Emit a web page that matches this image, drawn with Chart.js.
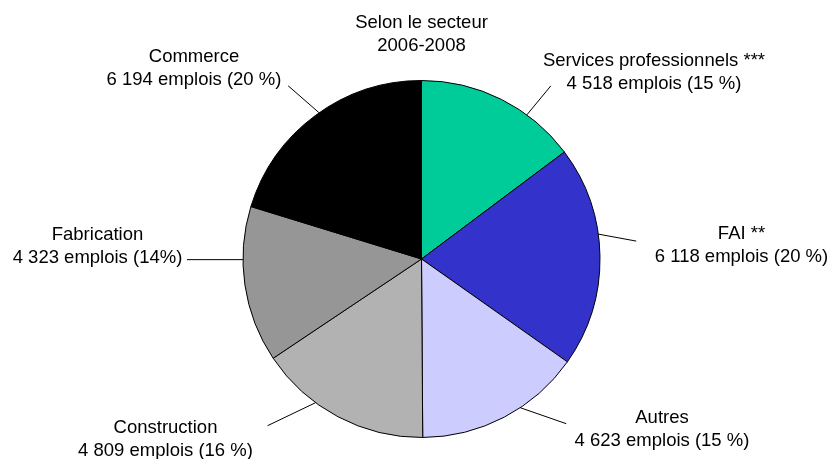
<!DOCTYPE html>
<html>
<head>
<meta charset="utf-8">
<script src="https://cdn.jsdelivr.net/npm/chart.js@4/dist/chart.umd.min.js"></script>
<style>
  html, body { margin: 0; padding: 0; background: #ffffff; }
  #wrap { width: 831px; height: 459px; }
</style>
</head>
<body>
<div id="wrap"><canvas id="c" width="831" height="459"></canvas></div>
<script>
// ---- Data ----
const titleLines = ['Selon le secteur', '2006-2008'];
const categories = ['Services professionnels ***', 'FAI **', 'Autres', 'Construction', 'Fabrication', 'Commerce'];
const jobs = [4518, 6118, 4623, 4809, 4323, 6194];
const percentLabels = ['15 %', '20 %', '15 %', '16 %', '14%', '20 %'];
const colors = ['#00CC99', '#3333CC', '#CCCCFF', '#B2B2B2', '#969696', '#000000'];

function fmt(n) {
  return String(n).replace(/\B(?=(\d{3})+(?!\d))/g, ' ');
}

// Label placement (style/layout only): fraction along the slice where the leader
// starts, leader end offset from start, text centre offset from pie centre.
const labelLayout = [
  { frac: 0.68, lead: [24, -29],  text: [232.5, -198] },
  { frac: 0.40, lead: [38, 7],    text: [320, -25] },
  { frac: 0.39, lead: [46, 16],   text: [240.5, 159] },
  { frac: 0.65, lead: [-48, 23],  text: [-256, 169] },
  { frac: 0.66, lead: [-56, 0],   text: [-324, -24] },
  { frac: 0.52, lead: [-31, -27], text: [-227.5, -202] }
];
const FONT = '"Liberation Sans", Arial, sans-serif';
const FONT_SIZE = 18.5;
const LINE_GAP = 23;

const labelPlugin = {
  id: 'sliceLabels',
  afterDraw(chart) {
    const ctx = chart.ctx;
    const meta = chart.getDatasetMeta(0);
    ctx.save();
    ctx.font = FONT_SIZE + 'px ' + FONT;
    ctx.fillStyle = '#000';
    ctx.strokeStyle = '#000';
    ctx.lineWidth = 1;
    ctx.textAlign = 'center';
    ctx.textBaseline = 'middle';
    meta.data.forEach((arc, i) => {
      const L = labelLayout[i];
      const a = arc.startAngle + (arc.endAngle - arc.startAngle) * L.frac;
      const sx = arc.x + Math.cos(a) * arc.outerRadius;
      const sy = arc.y + Math.sin(a) * arc.outerRadius;
      ctx.beginPath();
      ctx.moveTo(sx, sy);
      ctx.lineTo(sx + L.lead[0], sy + L.lead[1]);
      ctx.stroke();
      const tx = arc.x + L.text[0];
      const ty = arc.y + L.text[1];
      ctx.fillText(categories[i], tx, ty);
      ctx.fillText(fmt(jobs[i]) + ' emplois (' + percentLabels[i] + ')', tx, ty + LINE_GAP);
    });
    ctx.restore();
  }
};

new Chart(document.getElementById('c'), {
  type: 'pie',
  data: {
    labels: categories,
    datasets: [{
      data: jobs,
      backgroundColor: colors,
      borderColor: '#000000',
      borderWidth: 1
    }]
  },
  options: {
    responsive: false,
    animation: false,
    devicePixelRatio: 1,
    layout: { padding: { left: 12, right: 0, top: 0, bottom: 21 } },
    plugins: {
      legend: { display: false },
      tooltip: { enabled: false },
      title: {
        display: true,
        text: titleLines,
        color: '#000',
        font: { family: FONT, size: FONT_SIZE, weight: 'normal', lineHeight: LINE_GAP / FONT_SIZE },
        padding: { top: 11.5, bottom: 22.5 }
      }
    }
  },
  plugins: [labelPlugin]
});
</script>
</body>
</html>
